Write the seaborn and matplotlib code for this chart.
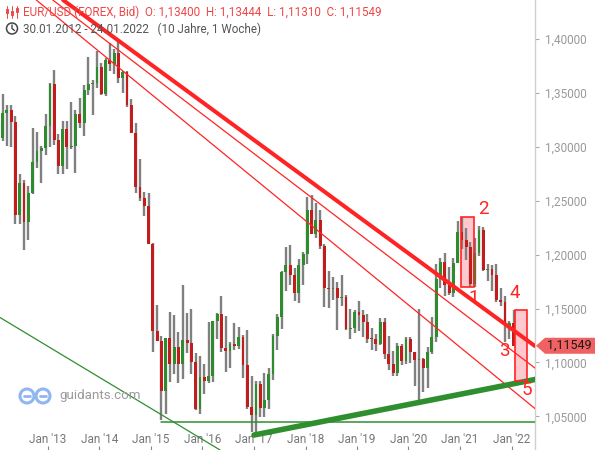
import numpy as np
import pandas as pd
import matplotlib
matplotlib.use("Agg")
import matplotlib.pyplot as plt
import matplotlib.patches as mpatches
from matplotlib.lines import Line2D
from matplotlib.transforms import blended_transform_factory
import seaborn as sns

# EUR/USD monatliche Kerzen, Feb 2012 .. Jan 2022
months = pd.date_range("2012-02-01", periods=120, freq="MS")
opens = [1.3080, 1.3318, 1.3343, 1.3233, 1.2369, 1.2665, 1.2305, 1.2576, 1.2859, 1.2958, 1.2988,
         1.3193, 1.3580, 1.3060, 1.2820, 1.3168, 1.2996, 1.3011, 1.3302, 1.3219, 1.3525, 1.3583, 1.3590,
         1.3743, 1.3486, 1.3805, 1.3769, 1.3867, 1.3634, 1.3692, 1.3389, 1.3131, 1.2629, 1.2525, 1.2453,
         1.2101, 1.1289, 1.1197, 1.0731, 1.1224, 1.0988, 1.1146, 1.0983, 1.1211, 1.1177, 1.1006, 1.0565,
         1.0862, 1.0831, 1.0873, 1.1380, 1.1452, 1.1131, 1.1103, 1.1174, 1.1157, 1.1240, 1.0981, 1.0589,
         1.0517, 1.0798, 1.0575, 1.0652, 1.0895, 1.1243, 1.1425, 1.1842, 1.1908, 1.1813, 1.1644, 1.1902,
         1.2003, 1.2415, 1.2194, 1.2324, 1.2077, 1.1693, 1.1684, 1.1690, 1.1600, 1.1605, 1.1312, 1.1316,
         1.1468, 1.1444, 1.1372, 1.1217, 1.1215, 1.1168, 1.1371, 1.1076, 1.0988, 1.0899, 1.1152, 1.1017,
         1.1213, 1.1093, 1.1026, 1.1031, 1.0953, 1.1101, 1.1233, 1.1778, 1.1936, 1.1721, 1.1647, 1.1927,
         1.2214, 1.2137, 1.2075, 1.1730, 1.2018, 1.2227, 1.1858, 1.1869, 1.1808, 1.1580, 1.1557, 1.1338,
         1.1370]
highs = [1.3486, 1.3386, 1.3384, 1.3283, 1.2747, 1.2691, 1.2639, 1.3171, 1.3140, 1.3011, 1.3308,
         1.3588, 1.3711, 1.3122, 1.3243, 1.3242, 1.3416, 1.3346, 1.3452, 1.3569, 1.3832, 1.3621, 1.3893,
         1.3775, 1.3825, 1.3967, 1.3906, 1.3993, 1.3700, 1.3700, 1.3443, 1.3221, 1.2887, 1.2577, 1.2570,
         1.2105, 1.1534, 1.1242, 1.1214, 1.1467, 1.1436, 1.1278, 1.1714, 1.1460, 1.1495, 1.1087, 1.1059,
         1.0985, 1.1376, 1.1387, 1.1463, 1.1616, 1.1428, 1.1186, 1.1366, 1.1327, 1.1258, 1.1300, 1.0874,
         1.0829, 1.0829, 1.0906, 1.0951, 1.1268, 1.1445, 1.1846, 1.2070, 1.2092, 1.1880, 1.1961, 1.2024,
         1.2537, 1.2555, 1.2476, 1.2414, 1.2097, 1.1852, 1.1791, 1.1743, 1.1815, 1.1622, 1.1500, 1.1486,
         1.1570, 1.1489, 1.1448, 1.1324, 1.1265, 1.1412, 1.1412, 1.1250, 1.1109, 1.1179, 1.1175, 1.1240,
         1.1239, 1.1096, 1.1495, 1.1040, 1.1147, 1.1422, 1.1909, 1.1966, 1.2011, 1.1881, 1.1965, 1.2310,
         1.2349, 1.2243, 1.2113, 1.2150, 1.2266, 1.2254, 1.1909, 1.1908, 1.1909, 1.1692, 1.1616, 1.1386,
         1.1483]
lows = [1.3058, 1.3004, 1.3001, 1.2286, 1.2288, 1.2042, 1.2134, 1.2560, 1.2801, 1.2661, 1.2926,
        1.2998, 1.3018, 1.2746, 1.2745, 1.2796, 1.2978, 1.2755, 1.3172, 1.3102, 1.3479, 1.3295, 1.3548,
        1.3477, 1.3476, 1.3705, 1.3673, 1.3590, 1.3503, 1.3367, 1.3131, 1.2570, 1.2501, 1.2358, 1.2098,
        1.1098, 1.1196, 1.0462, 1.0521, 1.0819, 1.0889, 1.0808, 1.0848, 1.1086, 1.0896, 1.0558, 1.0523,
        1.0710, 1.0809, 1.0822, 1.1216, 1.1098, 1.0912, 1.0952, 1.1120, 1.1122, 1.0852, 1.0569, 1.0352,
        1.0340, 1.0494, 1.0496, 1.0569, 1.0839, 1.1118, 1.1312, 1.1662, 1.1717, 1.1574, 1.1554, 1.1718,
        1.1916, 1.2187, 1.2155, 1.2055, 1.1510, 1.1508, 1.1575, 1.1301, 1.1526, 1.1302, 1.1216, 1.1269,
        1.1289, 1.1234, 1.1176, 1.1111, 1.1107, 1.1160, 1.1028, 1.0926, 1.0879, 1.0879, 1.0981, 1.0982,
        1.0992, 1.0778, 1.0636, 1.0727, 1.0766, 1.1080, 1.1186, 1.1695, 1.1612, 1.1622, 1.1603, 1.1925,
        1.2055, 1.1952, 1.1704, 1.1704, 1.1986, 1.1847, 1.1752, 1.1664, 1.1562, 1.1524, 1.1186, 1.1222,
        1.1287]
closes = [1.3318, 1.3343, 1.3233, 1.2369, 1.2665, 1.2305, 1.2576, 1.2859, 1.2958, 1.2988, 1.3193,
          1.3580, 1.3060, 1.2820, 1.3168, 1.2996, 1.3011, 1.3302, 1.3219, 1.3525, 1.3583, 1.3590, 1.3743,
          1.3486, 1.3805, 1.3769, 1.3867, 1.3634, 1.3692, 1.3389, 1.3131, 1.2629, 1.2525, 1.2453, 1.2101,
          1.1289, 1.1197, 1.0731, 1.1224, 1.0988, 1.1146, 1.0983, 1.1211, 1.1177, 1.1006, 1.0565, 1.0862,
          1.0831, 1.0873, 1.1380, 1.1452, 1.1131, 1.1103, 1.1174, 1.1157, 1.1240, 1.0981, 1.0589, 1.0517,
          1.0798, 1.0575, 1.0652, 1.0895, 1.1243, 1.1425, 1.1842, 1.1908, 1.1813, 1.1644, 1.1902, 1.2003,
          1.2415, 1.2194, 1.2324, 1.2077, 1.1693, 1.1684, 1.1690, 1.1600, 1.1605, 1.1312, 1.1316, 1.1468,
          1.1444, 1.1372, 1.1217, 1.1215, 1.1168, 1.1371, 1.1076, 1.0988, 1.0899, 1.1152, 1.1017, 1.1213,
          1.1093, 1.1026, 1.1031, 1.0953, 1.1101, 1.1233, 1.1778, 1.1936, 1.1721, 1.1647, 1.1927, 1.2214,
          1.2137, 1.2075, 1.1730, 1.2018, 1.2227, 1.1858, 1.1869, 1.1808, 1.1580, 1.1557, 1.1338, 1.1370,
          1.1155]
last_price = 1.11549

# Trendlinien: (Start, Ende) als Datum / Kurs
red_thick = (["2013-04-18", "2022-06-16"], [1.4362, 1.1152])
red_thin_1 = (["2013-02-04", "2022-06-16"], [1.4362, 1.0948])
red_thin_2 = (["2012-10-10", "2022-06-16"], [1.4362, 1.0572])
green_thin = (["2012-01-27", "2016-05-05"], [1.1417, 1.0188])
green_flat = (["2015-03-14", "2022-06-16"], [1.0445, 1.0445])
green_thick = (["2017-01-01", "2022-06-16"], [1.0327, 1.0842])

# Markierungen (Rechtecke) und Wellenzahlen
boxes = [(["2021-01-06", "2021-04-06"], [1.1697, 1.2346]),
         (["2022-01-22", "2022-04-19"], [1.0830, 1.1486])]
wave_labels = ["1", "2", "3", "4", "5"]
wave_dates = ["2021-04-04", "2021-06-14", "2021-11-09", "2022-01-26", "2022-04-22"]
wave_prices = [1.1598, 1.2423, 1.1106, 1.1644, 1.0744]

year_ticks = pd.to_datetime([f"{y}-01-01" for y in range(2013, 2023)])
year_labels = [f"Jan '{y % 100:02d}" for y in range(2013, 2023)]
price_ticks = [1.05, 1.10, 1.15, 1.20, 1.25, 1.30, 1.35, 1.40]

sns.set_style("white")
plt.rcParams['font.family'] = ['Roboto', 'DejaVu Sans']

W, H = 595, 450
fig = plt.figure(figsize=(W / 100, H / 100), dpi=100)
ax = fig.add_axes([0, 0, 535 / W, 1])

RED = "#ff2424"
GREEN = "#2f8f2f"

# Kerzen
x = months + pd.Timedelta(days=14)
o = np.array(opens)
c = np.array(closes)
up = c >= o
ax.vlines(x, lows, highs, color="#808080", lw=1.7, zorder=2)
body = np.maximum(np.abs(c - o), 0.0008)
ax.bar(x[up], body[up], bottom=o[up], width=20, color="#2e8b2e", zorder=3, linewidth=0)
ax.bar(x[~up], body[~up], bottom=c[~up], width=20, color="#c21d1d", zorder=3, linewidth=0)

# Linien
for (d, p), col, lw in [(red_thick, RED, 2.9), (red_thin_1, RED, 0.9), (red_thin_2, RED, 0.9),
                        (green_thin, GREEN, 0.9), (green_flat, GREEN, 1.1), (green_thick, GREEN, 4.0)]:
    sns.lineplot(x=pd.to_datetime(d), y=p, ax=ax, color=col, lw=lw, zorder=4)

for d, p in boxes:
    d = pd.to_datetime(d)
    ax.add_patch(mpatches.Rectangle((d[0], p[0]), d[1] - d[0], p[1] - p[0],
                                    facecolor="#ff9aa6", alpha=0.55, edgecolor="none", zorder=1))
    ax.add_patch(mpatches.Rectangle((d[0], p[0]), d[1] - d[0], p[1] - p[0],
                                    facecolor="none", edgecolor=RED, lw=1.2, zorder=5))

for t, d, p in zip(wave_labels, pd.to_datetime(wave_dates), wave_prices):
    ax.text(d, p, t, color=RED, fontsize=13.5, ha="center", va="center", zorder=6)

ax.set_xlim(pd.Timestamp("2012-01-27"), pd.Timestamp("2022-06-16"))
ax.set_ylim(1.0188, 1.4362)

ax.set_xticks(year_ticks)
ax.set_xticklabels(year_labels)
ax.yaxis.tick_right()
ax.set_yticks(price_ticks)
ax.set_yticklabels([f"{v:.5f}".replace(".", ",") for v in price_ticks])
ax.tick_params(axis="x", direction="in", length=3, color="#888888", labelcolor="#777777",
               labelsize=8.5, pad=-12, bottom=True)
ax.tick_params(axis="y", direction="out", length=3, color="#aaaaaa", labelcolor="#999999",
               labelsize=8.5, pad=4, right=True)
for s in ["top", "left", "bottom"]:
    ax.spines[s].set_visible(False)
ax.spines["right"].set_color("#d0d0d0")
ax.spines["right"].set_linewidth(1)
ax.set_xlabel("")
ax.set_ylabel("")

# Kursschild rechts
tr = blended_transform_factory(fig.transFigure, ax.transData)
hh = 8 / 1078
tag = mpatches.Polygon([(536 / W, last_price), (545 / W, last_price + hh), (1, last_price + hh),
                        (1, last_price - hh), (545 / W, last_price - hh)],
                       closed=True, facecolor="#f06262", edgecolor="none", transform=tr, clip_on=False, zorder=10)
fig.add_artist(tag)
fig.text(569 / W, 0, f"{last_price:.5f}".replace(".", ","), transform=tr, fontsize=9, color="#1a1a1a",
         ha="center", va="center", zorder=11).set_y(last_price)


def px(xp, yp):
    return xp / W, 1 - yp / H


# Kopfzeile
fig.text(*px(23, 12), "EUR/USD (FOREX, Bid)  O: 1,13400  H: 1,13444  L: 1,11310  C: 1,11549",
         color="#ef4646", fontsize=8.4, va="center", ha="left")
fig.text(*px(23, 29), "30.01.2012 - 24.01.2022   (10 Jahre, 1 Woche)",
         color="#555555", fontsize=8.4, va="center", ha="left")
for xi, (b0, b1) in zip([7, 12, 17], [(9, 13), (11, 15), (8, 12)]):
    fig.add_artist(Line2D(*zip(px(xi, 6), px(xi, 18)), color="#ef4646", lw=0.7, transform=fig.transFigure))
    fig.add_artist(mpatches.Rectangle(px(xi - 1.3, b1), 2.6 / W, (b1 - b0) / H, facecolor="white",
                                      edgecolor="#ef4646", lw=0.7, transform=fig.transFigure))
fig.add_artist(mpatches.Ellipse(px(12, 28.5), 11 / W, 11 / H, facecolor="none", edgecolor="#444444",
                                lw=1.1, transform=fig.transFigure))
fig.add_artist(Line2D([px(12, 25)[0], px(12, 28.5)[0], px(14.5, 30.5)[0]],
                      [px(12, 25)[1], px(12, 28.5)[1], px(14.5, 30.5)[1]],
                      color="#444444", lw=1.0, transform=fig.transFigure))

# Wasserzeichen
for cx in [27, 43]:
    fig.add_artist(mpatches.Ellipse(px(cx, 396), 14 / W, 14 / H, facecolor="none", edgecolor="#8fb6f2",
                                    lw=2.2, transform=fig.transFigure))
    fig.add_artist(Line2D([px(cx - 3, 396)[0], px(cx + 3, 396)[0]], [px(cx, 396)[1]] * 2,
                          color="#8fb6f2", lw=2.0, transform=fig.transFigure))
fig.text(*px(59, 396), "guidants.com", color="#9a9a9a", fontsize=9.6, va="center", ha="left")

fig.savefig("out.png", dpi=100)
